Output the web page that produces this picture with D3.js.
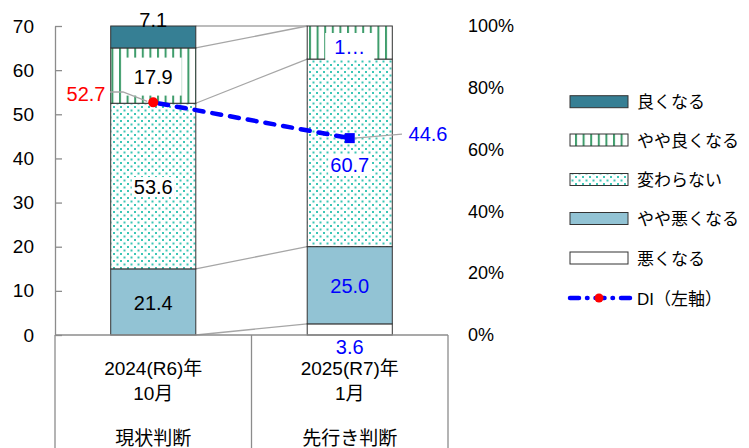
<!DOCTYPE html>
<html>
<head>
<meta charset="utf-8">
<script src="https://cdn.jsdelivr.net/npm/d3@7/dist/d3.min.js"></script>
<style>
  html, body { margin: 0; padding: 0; background: #fff; }
  svg text { font-family: "Liberation Sans", Arial, "Noto Sans CJK JP", sans-serif; }
</style>
</head>
<body>
<svg id="chart" width="749" height="448"></svg>
<script>
// Survey categories (two time points)
const categories = ["現状判断", "先行き判断"];
const categoryLines = [
  ["2024(R6)年", "10月", "現状判断"],
  ["2025(R7)年", "1月", "先行き判断"]
];

// Response shares (%), bottom to top of each stacked bar
const seriesNames = ["悪くなる", "やや悪くなる", "変わらない", "やや良くなる", "良くなる"];
const worse         = [0.0, 3.6];
const slightlyWorse = [21.4, 25.0];
const unchanged     = [53.6, 60.7];
const slightlyBetter= [17.9, 10.7];
const better        = [7.1, 0.0];

// Diffusion index (left axis)
const diValues = [52.7, 44.6];

// Axis ticks
const leftTicks = [0, 10, 20, 30, 40, 50, 60, 70];
const rightTicks = [0, 20, 40, 60, 80, 100];

const seriesValues = [worse, slightlyWorse, unchanged, slightlyBetter, better];

const svg = d3.select("#chart");
const defs = svg.append("defs");

// vertical stripes for やや良くなる
const pStripe = defs.append("pattern")
  .attr("id", "stripes").attr("patternUnits", "userSpaceOnUse")
  .attr("width", 7.6).attr("height", 10).attr("x", 5);
pStripe.append("rect").attr("width", 7.6).attr("height", 10).attr("fill", "#fff");
pStripe.append("rect").attr("x", 0).attr("width", 2).attr("height", 10).attr("fill", "#3f9d6c");

// dotted fill for 変わらない
const pDots = defs.append("pattern")
  .attr("id", "dots").attr("patternUnits", "userSpaceOnUse")
  .attr("width", 7).attr("height", 7);
pDots.append("rect").attr("width", 7).attr("height", 7).attr("fill", "#fff");
pDots.append("rect").attr("x", 1).attr("y", 1).attr("width", 2).attr("height", 2).attr("fill", "#3cc6b6");
pDots.append("rect").attr("x", 4.5).attr("y", 4.5).attr("width", 2).attr("height", 2).attr("fill", "#3cc6b6");

const fills = ["#ffffff", "#92c3d4", "url(#dots)", "url(#stripes)", "#367f94"];

const plotL = 55, plotR = 448, plotT = 26, plotB = 335;

const x = d3.scaleBand().domain(categories).range([plotL, plotR]).padding(0);
const barW = x.bandwidth() * 0.433;
const barX = c => x(c) + (x.bandwidth() - barW) / 2;
const yPct = d3.scaleLinear().domain([0, 100]).range([plotB, plotT]);
const yDI = d3.scaleLinear().domain([0, 70]).range([plotB, plotT]);

// stack
const rows = categories.map((c, i) => {
  const r = { cat: c };
  seriesNames.forEach((s, k) => r[s] = seriesValues[k][i]);
  return r;
});
const stacked = d3.stack().keys(seriesNames)(rows);

// connector lines between bars at each series top
const connG = svg.append("g");
stacked.forEach(layer => {
  connG.append("line")
    .attr("x1", barX(categories[0]) + barW).attr("y1", yPct(layer[0][1]))
    .attr("x2", barX(categories[1])).attr("y2", yPct(layer[1][1]))
    .attr("stroke", "#a6a6a6").attr("stroke-width", 1.3);
});

// bars
const barG = svg.append("g");
stacked.forEach((layer, k) => {
  barG.selectAll(null).data(layer.filter(d => d[1] - d[0] > 0)).enter()
    .append("rect")
    .attr("x", d => barX(d.data.cat))
    .attr("y", d => yPct(d[1]))
    .attr("width", barW)
    .attr("height", d => yPct(d[0]) - yPct(d[1]))
    .attr("fill", fills[k])
    .attr("stroke", "#333").attr("stroke-width", 1);
});

// category table below the plot
const tbl = svg.append("g").attr("stroke", "#8c8c8c").attr("stroke-width", 1.3);
tbl.append("line").attr("x1", plotL).attr("x2", plotR).attr("y1", plotB).attr("y2", plotB);
[plotL, x(categories[1]), plotR].forEach(px =>
  tbl.append("line").attr("x1", px).attr("x2", px).attr("y1", plotB).attr("y2", 448));

const catY = [368, 393, 438];
categories.forEach((c, i) => {
  categoryLines[i].forEach((t, j) => {
    svg.append("text").attr("x", x(c) + x.bandwidth() / 2).attr("y", catY[j])
      .attr("text-anchor", "middle").attr("dominant-baseline", "central")
      .attr("font-size", 19).attr("fill", "#000").text(t);
  });
});

// left axis (DI)
const axL = svg.append("g").attr("transform", `translate(${plotL},0)`)
  .call(d3.axisLeft(yDI).tickValues(leftTicks).tickSizeInner(-7).tickSizeOuter(0).tickPadding(21));
axL.select(".domain").attr("stroke", "#8c8c8c").attr("stroke-width", 1.3);
axL.selectAll(".tick line").attr("stroke", "#8c8c8c").attr("stroke-width", 1.3);
axL.selectAll(".tick text").attr("font-size", 19).attr("fill", "#000")
  .attr("font-family", "Liberation Sans, Arial, sans-serif");

// right axis (percent)
const axR = svg.append("g").attr("transform", `translate(${plotR},0)`)
  .call(d3.axisRight(yPct).tickValues(rightTicks).tickSize(0).tickPadding(20).tickFormat(d => d + "%"));
axR.select(".domain").remove();
axR.selectAll(".tick text").attr("font-size", 18).attr("fill", "#000")
  .attr("font-family", "Liberation Sans, Arial, sans-serif");

// segment value labels
const labelColors = ["#000", "#0000ff"];
const truncated = new Set(["やや良くなる|先行き判断"]);
const lblG = svg.append("g");
stacked.forEach((layer, k) => {
  const name = seriesNames[k];
  layer.forEach((d, i) => {
    const v = d[1] - d[0];
    if (v <= 0) return;
    const cx = barX(d.data.cat) + barW / 2;
    const segTop = yPct(d[1]), segBot = yPct(d[0]);
    const segH = segBot - segTop;
    let cy = (segTop + segBot) / 2;
    let txt = v.toFixed(1);
    if (truncated.has(name + "|" + d.data.cat)) txt = txt.slice(0, 1) + "…";
    if (segH < 30) cy = (name === "悪くなる") ? segBot + 11 : segTop - 7;
    if (name === "変わらない" && i === 1) cy += 11;
    if (name === "やや良くなる" && segH < 40) cy += 3;
    const t = lblG.append("text").attr("x", cx).attr("y", cy + 1)
      .attr("text-anchor", "middle").attr("dominant-baseline", "central")
      .attr("font-size", 20).attr("fill", labelColors[i]).text(txt);
    if (name === "やや良くなる" || name === "変わらない") {
      const bb = t.node().getBBox();
      const padX = name === "やや良くなる" ? 9 : 2;
      let h = name === "やや良くなる" ? Math.min(bb.height + 16, segH - 6) : bb.height - 2;
      lblG.insert("rect", () => t.node())
        .attr("x", bb.x - padX).attr("width", bb.width + 2 * padX)
        .attr("y", cy + 1 - h / 2).attr("height", h).attr("fill", "#fff");
    }
  });
});

// DI line
const diPts = categories.map((c, i) => [x(c) + x.bandwidth() / 2, yDI(diValues[i])]);
svg.append("path").attr("d", d3.line()(diPts))
  .attr("fill", "none").attr("stroke", "#0000ff").attr("stroke-width", 4.5)
  .attr("stroke-dasharray", "9,9").attr("stroke-linecap", "round")
  .attr("stroke-dashoffset", -6);

// DI leader lines and labels
const ldr = svg.append("g").attr("stroke", "#a6a6a6").attr("stroke-width", 1.3).attr("fill", "none");
ldr.append("polyline").attr("points", [[110, 92], [123, 92], [diPts[0][0] - 6, diPts[0][1] - 1]].join(" "));
ldr.append("line").attr("x1", diPts[1][0] + 5).attr("y1", diPts[1][1])
  .attr("x2", 402).attr("y2", diPts[1][1] - 4);

svg.append("circle").attr("cx", diPts[0][0]).attr("cy", diPts[0][1]).attr("r", 5).attr("fill", "#ff0000");
svg.append("rect").attr("x", diPts[1][0] - 5).attr("y", diPts[1][1] - 5)
  .attr("width", 10).attr("height", 10).attr("fill", "#0000ff");

svg.append("text").attr("x", 86).attr("y", 94).attr("text-anchor", "middle")
  .attr("dominant-baseline", "central").attr("font-size", 20).attr("fill", "#ff0000")
  .text(diValues[0].toFixed(1));
svg.append("text").attr("x", 428).attr("y", 134).attr("text-anchor", "middle")
  .attr("dominant-baseline", "central").attr("font-size", 20).attr("fill", "#0000ff")
  .text(diValues[1].toFixed(1));

// legend (top-most series first)
const legendY = [101.7, 140, 179.5, 218.5, 258];
const legNames = seriesNames.slice().reverse();
const legFills = fills.slice().reverse();
const leg = svg.append("g");
legNames.forEach((n, i) => {
  leg.append("rect").attr("x", 570).attr("y", legendY[i] - 6).attr("width", 58).attr("height", 12)
    .attr("fill", legFills[i]).attr("stroke", "#333").attr("stroke-width", 1);
  leg.append("text").attr("x", 637).attr("y", legendY[i] + 1).attr("dominant-baseline", "central")
    .attr("font-size", 17).attr("fill", "#000").text(n);
});
const diLegY = 298;
leg.append("line").attr("x1", 570).attr("x2", 630).attr("y1", diLegY).attr("y2", diLegY)
  .attr("stroke", "#0000ff").attr("stroke-width", 4.5).attr("stroke-linecap", "round")
  .attr("stroke-dasharray", "9,8,0.5,8");
leg.append("circle").attr("cx", 599).attr("cy", diLegY).attr("r", 4.5).attr("fill", "#ff0000");
leg.append("text").attr("x", 637).attr("y", diLegY + 1).attr("dominant-baseline", "central")
  .attr("font-size", 17).attr("fill", "#000").text("DI（左軸）");
</script>
</body>
</html>
